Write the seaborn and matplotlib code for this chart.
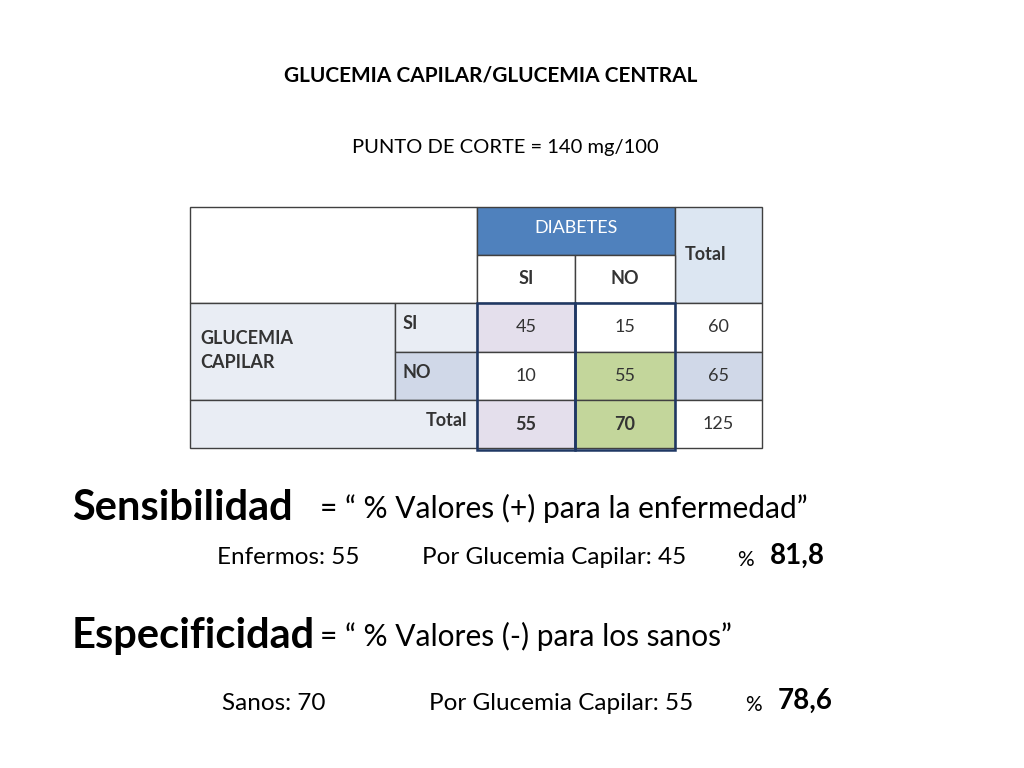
import matplotlib
matplotlib.use("Agg")
import matplotlib.pyplot as plt
from matplotlib.patches import Rectangle
import seaborn as sns

sns.set_theme(style="white", font="Lato")

# data
col_labels = ["SI", "NO"]
row_labels = ["SI", "NO"]
counts = [[45, 15], [10, 55]]
row_totals = [60, 65]
col_totals = [55, 70]
grand_total = 125
sens = 81.8
spec = 78.6

fig = plt.figure(figsize=(10.24, 7.68), dpi=100)
ax = fig.add_axes([0, 0, 1, 1])
ax.set_xlim(0, 1024)
ax.set_ylim(768, 0)
ax.axis("off")

def cell(x0, y0, x1, y1, fc, text="", color="#333333", bold=False, ha="center", va="center",
         ec="#404040", lw=1.0, tx=None, ty=None, size=13):
    ax.add_patch(Rectangle((x0, y0), x1 - x0, y1 - y0, fc=fc, ec=ec, lw=lw, zorder=1))
    if text != "":
        xx = tx if tx is not None else (x0 + x1) / 2
        yy = ty if ty is not None else (y0 + y1) / 2
        ax.text(xx, yy, str(text), ha=ha, va=va, color=color, fontsize=size,
                fontweight="bold" if bold else "normal", zorder=3, linespacing=1.5)

xs = [190, 395, 477, 575, 675, 762]
ys = [207, 255, 303, 352, 400, 448]
light = "#E9EDF4"
mid = "#D0D8E8"
lav = "#E4DFEC"
green = "#C3D69B"

cell(xs[0], ys[0], xs[2], ys[2], "white")
cell(xs[2], ys[0], xs[4], ys[1], "#4F81BD", "DIABETES", color="white", ty=228)
cell(xs[4], ys[0], xs[5], ys[2], "#DCE6F2", "Total", bold=True, ha="left", tx=xs[4] + 10)
for j, lab in enumerate(col_labels):
    cell(xs[2 + j], ys[1], xs[3 + j], ys[2], "white", lab, bold=True)

cell(xs[0], ys[2], xs[1], ys[4], light, "GLUCEMIA\nCAPILAR", bold=True, ha="left",
     tx=xs[0] + 10, ty=(ys[2] + ys[4]) / 2 - 1)
row_fill = [light, mid]
fills = [[lav, "white"], ["white", green]]
tot_fill = ["white", mid]
for i, lab in enumerate(row_labels):
    cell(xs[1], ys[2 + i], xs[2], ys[3 + i], row_fill[i], lab, bold=True, ha="left", va="top",
         tx=xs[1] + 8, ty=ys[2 + i] + 12)
    for j in range(2):
        cell(xs[2 + j], ys[2 + i], xs[3 + j], ys[3 + i], fills[i][j], counts[i][j])
    cell(xs[4], ys[2 + i], xs[5], ys[3 + i], tot_fill[i], row_totals[i])

cell(xs[0], ys[4], xs[2], ys[5], light, "Total", bold=True, ha="right", va="top",
     tx=xs[2] - 10, ty=ys[4] + 12)
tfill = [lav, green]
for j in range(2):
    cell(xs[2 + j], ys[4], xs[3 + j], ys[5], tfill[j], col_totals[j], bold=True)
cell(xs[4], ys[4], xs[5], ys[5], "white", grand_total)

# dark outlines on highlighted columns
for x0, x1 in [(xs[2], xs[3]), (xs[3], xs[4])]:
    ax.add_patch(Rectangle((x0, ys[2]), x1 - x0, ys[5] - ys[2] + 2, fc="none",
                           ec="#1F3864", lw=1.8, zorder=2))

ax.text(491, 75, "GLUCEMIA CAPILAR/GLUCEMIA CENTRAL", ha="center", va="center",
        fontsize=15, fontweight="bold", color="black")
ax.text(505, 148, "PUNTO DE CORTE = 140 mg/100", ha="center", va="center", fontsize=14.5, color="black")

ax.text(72, 508, "Sensibilidad", fontsize=30, fontweight="bold", va="center", color="black")
ax.text(320, 508, "= \u201c % Valores (+) para la enfermedad\u201d", fontsize=21.5, va="center", color="black")
ax.text(217, 558, "Enfermos: %d" % col_totals[0], fontsize=17.5, va="center", color="black")
ax.text(422, 558, "Por Glucemia Capilar: %d" % counts[0][0], fontsize=17.5, va="center", color="black")
ax.text(737, 560, "%", fontsize=15, va="center", color="black")
ax.text(770, 556, ("%.1f" % sens).replace(".", ","), fontsize=20, fontweight="bold", va="center", color="black")

ax.text(72, 636, "Especificidad", fontsize=30, fontweight="bold", va="center", color="black")
ax.text(320, 636, "= \u201c % Valores (-) para los sanos\u201d", fontsize=21.5, va="center", color="black")
ax.text(222, 703, "Sanos: %d" % col_totals[1], fontsize=17.5, va="center", color="black")
ax.text(429, 703, "Por Glucemia Capilar: %d" % counts[1][1], fontsize=17.5, va="center", color="black")
ax.text(745, 705, "%", fontsize=15, va="center", color="black")
ax.text(778, 701, ("%.1f" % spec).replace(".", ","), fontsize=20, fontweight="bold", va="center", color="black")

fig.savefig("out.png", dpi=100)
